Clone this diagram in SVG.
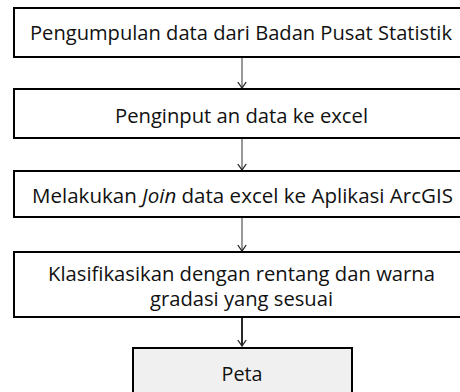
<svg xmlns="http://www.w3.org/2000/svg" width="460" height="392" viewBox="0 0 460 392">
<style>
.box{fill:#ffffff;stroke:#000000;stroke-width:2}
.peta{fill:#f0f0f0;stroke:#000000;stroke-width:2}
.t{font-family:"Open Sans","Noto Sans",sans-serif;font-size:20px;fill:#111111;text-anchor:middle}
.c{stroke:#333333;stroke-width:1;fill:none}
.c2{stroke:#111111;stroke-width:1.8;fill:none}
</style>
<defs>
<marker id="ah" markerUnits="userSpaceOnUse" markerWidth="8" markerHeight="11" refX="7" refY="5" orient="auto" viewBox="0 0 8 10">
<path d="M1,0.8 L7,5 L1,9.2" fill="none" stroke="#222" stroke-width="1.3"/>
</marker>
</defs>
<rect width="460" height="392" fill="#ffffff"/>
<g id="connectors">
<line class="c" x1="242" y1="57" x2="242" y2="88" marker-end="url(#ah)"/>
<line class="c" x1="242" y1="138" x2="242" y2="170" marker-end="url(#ah)"/>
<line class="c" x1="242" y1="217" x2="242" y2="251" marker-end="url(#ah)"/>
<line class="c2" x1="242" y1="317" x2="242" y2="346" marker-end="url(#ah)"/>
</g>
<g id="n1">
<rect class="box" x="14" y="8" width="456" height="49"/>
<text class="t" x="241" y="39.5" textLength="422" lengthAdjust="spacingAndGlyphs">Pengumpulan data dari Badan Pusat Statistik</text>
</g>
<g id="n2">
<rect class="box" x="14" y="89" width="456" height="49"/>
<text class="t" x="241.5" y="122.5" textLength="253" lengthAdjust="spacingAndGlyphs">Penginput an data ke excel</text>
</g>
<g id="n3">
<rect class="box" x="14" y="171" width="456" height="46"/>
<text class="t" x="242.5" y="202.5" textLength="421" lengthAdjust="spacingAndGlyphs">Melakukan <tspan font-style="italic">Join</tspan> data excel ke Aplikasi ArcGIS</text>
</g>
<g id="n4">
<rect class="box" x="14" y="252" width="456" height="65"/>
<text class="t" x="241.5" y="281" textLength="387" lengthAdjust="spacingAndGlyphs">Klasifikasikan dengan rentang dan warna</text>
<text class="t" x="241.5" y="306" textLength="183" lengthAdjust="spacingAndGlyphs">gradasi yang sesuai</text>
</g>
<g id="n5">
<rect class="peta" x="133" y="348" width="219" height="50"/>
<text class="t" x="242" y="381" textLength="41" lengthAdjust="spacingAndGlyphs">Peta</text>
</g>
</svg>
